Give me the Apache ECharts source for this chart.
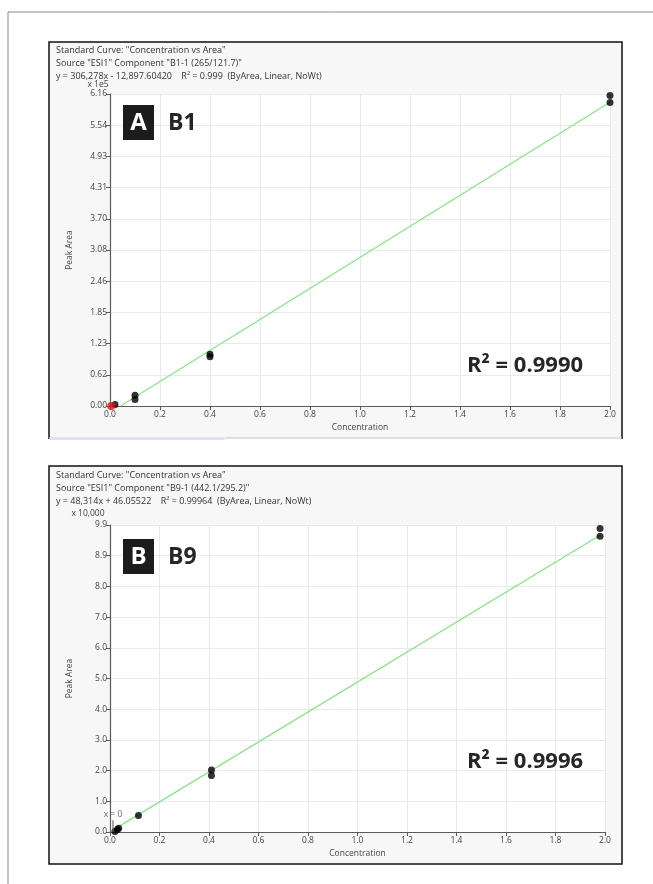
<!DOCTYPE html>
<html>
<head>
<meta charset="utf-8">
<script src="https://cdn.jsdelivr.net/npm/echarts@6/dist/echarts.min.js"></script>
<style>
  html, body { margin: 0; padding: 0; background: #ffffff; }
  #chart { width: 653px; height: 884px; }
</style>
</head>
<body>
<div id="chart"></div>
<script>
// ---- Compound B1: peak area in units of 1e5 ----
const b1Conc  = [0.02, 0.1, 0.1, 0.4, 0.4, 2.0, 2.0];
const b1Area  = [0.03, 0.13, 0.21, 0.97, 1.02, 5.99, 6.13];
const b1ExcludedConc = [0.005];
const b1ExcludedArea = [0.0];
const b1FitConc = [0.042, 2.0];
const b1FitArea = [0.0, 5.996];
const b1YTicks = ['0.00', '0.62', '1.23', '1.85', '2.46', '3.08', '3.70', '4.31', '4.93', '5.54', '6.16'];

// ---- Compound B9: peak area in units of 10,000 ----
const b9Conc  = [0.02, 0.03, 0.035, 0.115, 0.41, 0.41, 1.98, 1.98];
const b9Area  = [0.02, 0.08, 0.12, 0.53, 1.82, 2.0, 9.54, 9.79];
const b9FitConc = [0.02, 1.98];
const b9FitArea = [0.1, 9.57];
const b9YTicks = ['0.0', '1.0', '2.0', '3.0', '4.0', '5.0', '6.0', '7.0', '8.0', '8.9', '9.9'];
const b9OriginMarkConc = [0.012, 0.012];
const b9OriginMarkArea = [0.0, 0.38];

const xTicks = ['0.0', '0.2', '0.4', '0.6', '0.8', '1.0', '1.2', '1.4', '1.6', '1.8', '2.0'];

const zip = (xs, ys) => xs.map((x, i) => [x, ys[i]]);

const chart = echarts.init(document.getElementById('chart'), null, { renderer: 'canvas' });

const FONT = '"Open Sans", "Noto Sans", sans-serif';
const axisGray = '#5a5a5a';
const textGray = '#444444';

function xAxisCfg(gridIndex) {
  return {
    type: 'value', gridIndex, min: 0, max: 2, interval: 0.2,
    name: 'Concentration', nameLocation: 'middle', nameGap: 17,
    nameTextStyle: { fontFamily: FONT, fontSize: 8.5, color: textGray },
    axisLine: { show: true, lineStyle: { color: axisGray, width: 1.2 } },
    axisTick: { show: true, length: 4, lineStyle: { color: axisGray } },
    axisLabel: {
      fontFamily: FONT, fontSize: 8.5, color: textGray, margin: 4,
      formatter: v => xTicks[Math.round(v / 0.2)]
    },
    splitLine: { show: true, lineStyle: { color: '#e9e9e9', width: 1 } }
  };
}

function yAxisCfg(gridIndex, max, step, labels) {
  return {
    type: 'value', gridIndex, min: 0, max, interval: step,
    name: 'Peak Area', nameLocation: 'middle', nameGap: 36, nameRotate: 90,
    nameTextStyle: { fontFamily: FONT, fontSize: 8.5, color: textGray },
    axisLine: { show: true, lineStyle: { color: axisGray, width: 1.2 } },
    axisTick: { show: true, length: 4, lineStyle: { color: axisGray } },
    axisLabel: {
      fontFamily: FONT, fontSize: 8.5, color: textGray, margin: 3,
      formatter: v => labels[Math.round(v / step)]
    },
    splitLine: { show: true, lineStyle: { color: '#e9e9e9', width: 1 } }
  };
}

function headerLines(x, y, lines) {
  return lines.map((t, i) => ({
    type: 'text', x, y: y + i * 13, z: 10,
    style: { text: t, fontFamily: FONT, fontSize: 9, fill: '#333333', textVerticalAlign: 'middle' }
  }));
}

function tagBox(x, y, letter, name) {
  return [
    { type: 'rect', shape: { x, y, width: 31, height: 35 }, style: { fill: '#1c1c1c' }, z: 10 },
    { type: 'text', x: x + 15.5, y: y + 18, z: 11,
      style: { text: letter, fontFamily: FONT, fontWeight: 'bold', fontSize: 24, fill: '#ffffff',
               textAlign: 'center', textVerticalAlign: 'middle' } },
    { type: 'text', x: x + 45, y: y + 18, z: 11,
      style: { text: name, fontFamily: FONT, fontWeight: 'bold', fontSize: 23, fill: '#262626',
               textVerticalAlign: 'middle' } }
  ];
}

function r2Text(x, y, t) {
  return { type: 'text', x, y, z: 11,
    style: { text: t, fontFamily: FONT, fontWeight: 'bold', fontSize: 22, fill: '#262626',
             textVerticalAlign: 'middle' } };
}

const graphics = [
  // outer page frame
  { type: 'line', shape: { x1: 8, y1: 12, x2: 653, y2: 12 }, style: { stroke: '#8a8a8a', lineWidth: 1 }, z: 0 },
  { type: 'line', shape: { x1: 8, y1: 12, x2: 8, y2: 884 }, style: { stroke: '#8a8a8a', lineWidth: 1 }, z: 0 },

  // panel A frame (cut at the bottom)
  { type: 'rect', shape: { x: 49, y: 42, width: 573, height: 396 }, style: { fill: '#f7f7f7' }, z: -1 },
  { type: 'polyline', shape: { points: [[49, 439], [49, 42], [622, 42], [622, 439]] },
    style: { stroke: '#111111', lineWidth: 1.5, fill: null }, z: 5 },
  { type: 'rect', shape: { x: 49.5, y: 437, width: 175, height: 3 }, style: { fill: '#dbe5f1' }, z: 5 },
  { type: 'line', shape: { x1: 225, y1: 438, x2: 622, y2: 438 }, style: { stroke: '#c4c4c4', lineWidth: 1 }, z: 5 },

  // panel B frame
  { type: 'rect', shape: { x: 49, y: 466, width: 573, height: 398 },
    style: { fill: '#f7f7f7', stroke: '#111111', lineWidth: 1.5 }, z: -1 },

  // axis multipliers
  { type: 'text', x: 98, y: 85, z: 10,
    style: { text: 'x 1e5', fontFamily: FONT, fontSize: 8.5, fill: textGray, textAlign: 'center', textVerticalAlign: 'middle' } },
  { type: 'text', x: 88, y: 514, z: 10,
    style: { text: 'x 10,000', fontFamily: FONT, fontSize: 8.5, fill: textGray, textAlign: 'center', textVerticalAlign: 'middle' } },

  ...headerLines(56, 50, [
    'Standard Curve: "Concentration vs Area"',
    'Source "ESI1" Component "B1-1 (265/121.7)"',
    'y = 306,278x - 12,897.60420    R\u00B2 = 0.999  (ByArea, Linear, NoWt)'
  ]),
  ...headerLines(56, 475, [
    'Standard Curve: "Concentration vs Area"',
    'Source "ESI1" Component "B9-1 (442.1/295.2)"',
    'y = 48,314x + 46.05522    R\u00B2 = 0.99964  (ByArea, Linear, NoWt)'
  ]),

  ...tagBox(123, 105, 'A', 'B1'),
  ...tagBox(123, 539, 'B', 'B9'),

  r2Text(467, 366, 'R\u00B2 = 0.9990'),
  r2Text(467, 762, 'R\u00B2 = 0.9996')
];

const option = {
  animation: false,
  backgroundColor: '#ffffff',
  grid: [
    { left: 110, top: 94, width: 500, height: 312, show: true, backgroundColor: '#ffffff', borderWidth: 0 },
    { left: 110, top: 525, width: 495, height: 307, show: true, backgroundColor: '#ffffff', borderWidth: 0 }
  ],
  xAxis: [xAxisCfg(0), xAxisCfg(1)],
  yAxis: [yAxisCfg(0, 6.16, 0.616, b1YTicks), yAxisCfg(1, 9.9, 0.99, b9YTicks)],
  graphic: graphics,
  series: [
    // B1 regression line
    { type: 'line', xAxisIndex: 0, yAxisIndex: 0, data: zip(b1FitConc, b1FitArea),
      symbol: 'none', lineStyle: { color: '#86e486', width: 1.3 }, z: 3 },
    // B1 calibration points
    { type: 'scatter', xAxisIndex: 0, yAxisIndex: 0, data: zip(b1Conc, b1Area),
      symbolSize: 7, itemStyle: { color: '#000000' }, z: 4 },
    // B1 excluded point
    { type: 'scatter', xAxisIndex: 0, yAxisIndex: 0, data: zip(b1ExcludedConc, b1ExcludedArea),
      symbolSize: 8, itemStyle: { color: '#e81010' }, z: 4 },

    // B9 regression line
    { type: 'line', xAxisIndex: 1, yAxisIndex: 1, data: zip(b9FitConc, b9FitArea),
      symbol: 'none', lineStyle: { color: '#86e486', width: 1.3 }, z: 3 },
    // B9 calibration points
    { type: 'scatter', xAxisIndex: 1, yAxisIndex: 1, data: zip(b9Conc, b9Area),
      symbolSize: 7, itemStyle: { color: '#000000' }, z: 4 },
    // B9 "x = 0" marker stem
    { type: 'line', xAxisIndex: 1, yAxisIndex: 1,
      data: zip(b9OriginMarkConc, b9OriginMarkArea),
      symbol: 'none', lineStyle: { color: '#555555', width: 1 }, z: 5 },
    // B9 "x = 0" marker caption
    { type: 'scatter', xAxisIndex: 1, yAxisIndex: 1,
      data: [[b9OriginMarkConc[1], b9OriginMarkArea[1]]],
      symbolSize: 1, itemStyle: { color: 'rgba(0,0,0,0)' }, silent: true,
      label: { show: true, position: 'top', distance: 1, formatter: 'x = 0',
               fontFamily: FONT, fontSize: 8.5, color: textGray }, z: 5 }
  ]
};

chart.setOption(option);
</script>
</body>
</html>
